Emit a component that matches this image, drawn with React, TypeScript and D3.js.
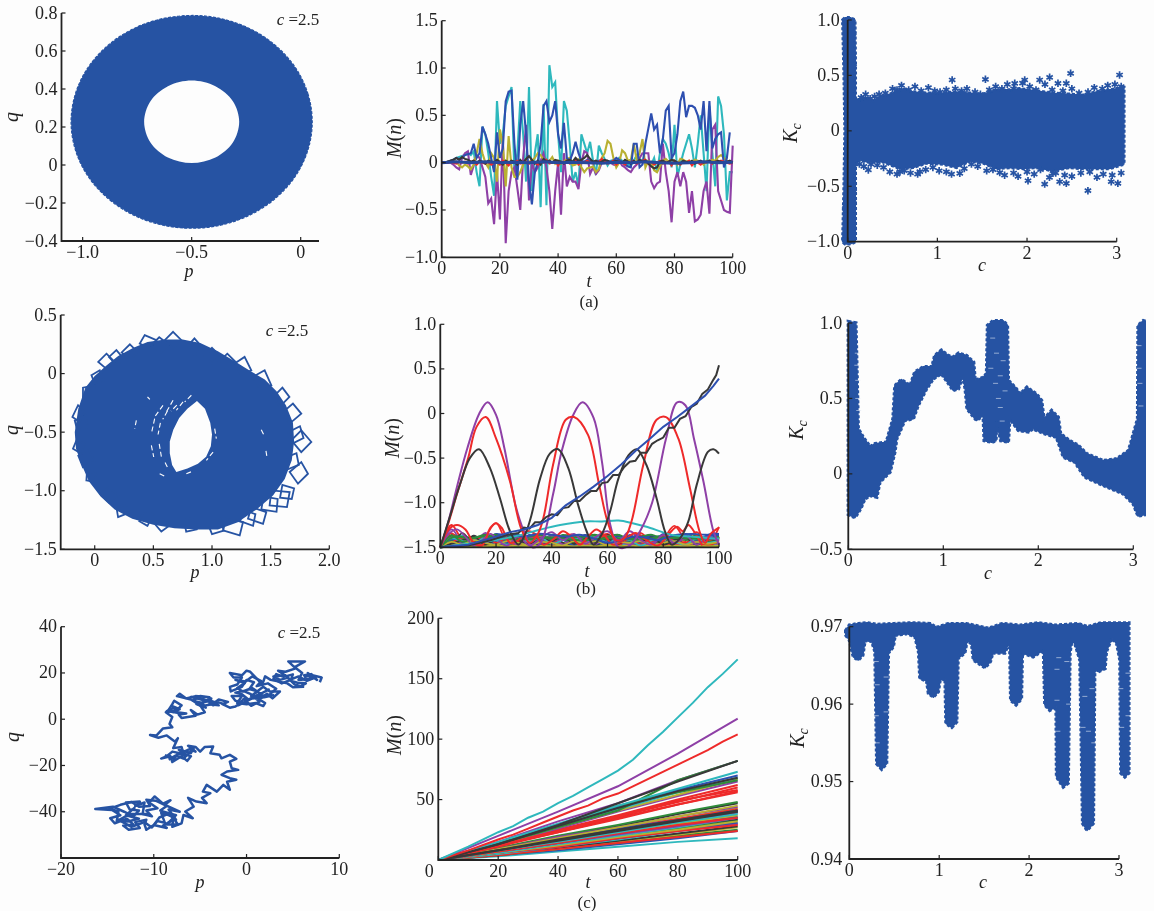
import React from "react";
import * as d3 from "d3";

const BLUE = "#2653a3";
const C = { blue: "#2d4fb0", green: "#2e8b3a", red: "#ee2a2a", cyan: "#2fb8bd", purple: "#8e3fa6", olive: "#b8b030", black: "#383838" };
type P = [number, number];

// ---------- row (a), p-q ring
const ringOuterA: P[] = [[.053,.227],[.034,.372],[-.021,.507],[-.109,.623],[-.2235,.712],[-.357,.768],[-.49,.787],[-.643,.768],[-.7765,.712],[-.891,.623],[-.979,.507],[-1.034,.372],[-1.053,.227],[-1.034,.082],[-.979,-.053],[-.891,-.169],[-.7765,-.258],[-.643,-.314],[-.5,-.333],[-.357,-.314],[-.2235,-.258],[-.109,-.169],[-.021,-.053],[.034,.082]];
const ringInnerA: P[] = [[-.282,.227],[-.311,.336],[-.391,.415],[-.5,.445],[-.609,.415],[-.689,.336],[-.718,.227],[-.689,.118],[-.609,.039],[-.5,.01],[-.391,.039],[-.311,.118]];

// ---------- row (a), M(n)
const mACyan = [0,0,0,.01,.03,.05,.06,.07,.08,.1,.08,.12,-.1,-.25,.38,.3,.1,-.15,-.35,.65,.2,.3,.6,.7,.8,-.1,.1,.65,.3,-.2,.8,-.3,.1,.3,-.47,.62,-.45,1.03,.8,.85,.3,-.1,.65,.55,.2,-.2,-.1,-.25,.3,.2,.1,.22,.02,-.13,.18,.1,.04,-.03,.02,.03,.01,.05,.02,0,-.02,-.03,.02,.08,.04,.02,.03,.01,-.02,.05,-.1,.1,.25,.2,.1,-.05,.4,-.15,-.02,.1,.2,.3,.15,-.05,.2,.5,.1,-.3,.6,.1,-.25,.7,.6,.3,-.4,-.1,-.1];
const mAPurple = [0,0,0,0,-.02,-.05,-.07,.05,.1,.12,-.13,-.03,.08,.05,-.05,-.15,-.43,-.38,-.65,-.1,-.6,.28,-.85,-.3,-.1,-.05,-.27,-.5,.05,.4,-.4,0,-.1,-.05,.02,.1,-.05,-.3,-.7,-.3,0,-.55,.1,-.25,-.15,-.2,-.2,-.28,0,.12,.1,-.12,-.05,-.12,-.08,0,.02,.01,0,-.02,-.03,.02,-.03,-.05,-.08,-.1,-.05,-.02,.05,.1,.1,.1,-.2,-.27,-.22,-.2,.2,-.1,-.3,-.63,-.2,-.1,-.25,-.1,-.2,-.53,-.3,-.62,-.6,-.55,-.3,-.2,-.54,.35,.4,-.3,-.4,-.5,-.52,-.53,.18];
const mAOlive = [0,0,.01,.02,.02,.01,-.03,-.05,-.02,-.04,-.07,-.02,.1,.25,.1,0,-.05,.1,.05,-.2,.35,.2,-.25,.28,-.05,-.15,-.15,-.1,-.02,.03,.01,.02,.05,.1,.08,.03,.01,.02,.06,-.01,.02,-.01,.01,.04,.05,-.03,-.02,.03,-.05,-.1,-.06,-.05,-.04,-.1,-.07,.05,.1,.23,.2,.05,-.05,0,.13,.1,.02,.03,.2,.03,.1,.25,-.05,.02,0,-.08,-.1,-.04,.02,.04,.01,.03,.02,-.02,.04,.03,.01,.02,-.01,.03,.02,.01,-.02,.02,.01,.03,.02,.06,.08,.05,.02,.01,0];
const mABlue = [0,0,.01,.02,.03,.05,.04,.05,.08,.09,.1,.2,.05,.1,.38,.3,.2,.05,-.1,.32,.05,.15,.65,.75,.76,.2,-.18,.4,.65,.3,-.2,-.44,-.1,0,.2,.6,.65,.43,.5,.65,.3,.15,.42,.05,.02,.1,.22,.1,.02,.01,.03,.02,.01,0,.02,.03,.01,.02,.01,.02,.05,.03,.01,-.02,-.04,-.05,.2,.2,-.05,-.02,.2,.36,.52,.35,.4,.1,.25,.55,.6,.05,.1,.3,.65,.75,.48,.6,.6,.58,.5,.35,.65,.12,.65,.15,.25,.3,.32,-.05,.05,.32];
const mARed = [0,0,0,.01,0,-.01,.01,0,.01,-.01,0,.02,-.02,.01,0,-.01,.01,-.02,0,.01,-.02,.02,0,-.03,.01,0,.02,-.01,0,.01,-.01,.02,0,-.02,.01,0,.03,-.01,0,.02,-.03,.01,0,.02,-.01,0,.03,-.02,.01,0,.02,0,-.01,.02,0,.04,.01,-.01,0,.02,-.02,.01,0,-.02,.01,0,.02,-.01,0,.02,.03,-.01,.01,-.02,0,.02,-.01,0,.01,-.03,.02,0,-.02,.01,0,.02,-.03,.01,0,-.02,.01,0,.02,-.01,.01,0,.02,.01,0,-.01,0];
const mABlack = [0,0,.01,.02,.03,.05,.03,.06,.04,.03,.01,.02,0,.02,.01,-.01,.02,.01,0,.03,.01,-.02,.02,0,.02,.01,-.02,.03,0,.04,.07,.03,-.01,.02,-.02,.04,.01,.02,0,.03,.02,.01,-.01,.02,.03,.01,.05,.02,.03,.05,.08,.04,.01,.02,0,.01,.03,.02,0,.01,.02,.01,0,.03,.01,-.01,.02,0,.03,.01,.02,-.01,-.04,-.06,-.05,.01,.02,0,.01,.03,.02,0,-.01,.02,.01,0,.02,-.01,.01,.02,0,.01,.02,0,.01,.02,.01,0,.01,.02,0];
const mAFlat = [0,.01,0,.01,0,.005,0,.01,0,.005,0,-.005,.005,0,.01,0,-.005,0,.01,0,.005];

// ---------- row (a), K_c
const kAStalkUp: P[] = [[-.055,1],[-.03,1.02],[.03,1.02],[.08,1],[.085,.6],[.085,.3]];
const kAStalkDown: P[] = [[.085,-.3],[.085,-.7],[.085,-1],[.03,-1.02],[-.03,-1.02],[-.055,-1],[-.04,-.5],[-.03,0],[-.04,.5]];
const kAUpper: P[] = [[.093,.28],[.137,.28],[.21,.3],[.286,.27],[.36,.31],[.47,.33],[.62,.38],[.73,.35],[.88,.34],[1.065,.34],[1.213,.35],[1.362,.34],[1.51,.33],[1.659,.37],[1.807,.37],[1.918,.38],[2.104,.36],[2.289,.34],[2.475,.33],[2.623,.32],[2.772,.35],[2.92,.37],[3.08,.39]];
const kALower: P[] = [[3.08,-.3],[2.92,-.34],[2.772,-.34],[2.623,-.34],[2.475,-.33],[2.289,-.36],[2.104,-.33],[1.957,-.34],[1.807,-.33],[1.659,-.34],[1.51,-.29],[1.362,-.27],[1.213,-.33],[1.065,-.3],[.88,-.29],[.73,-.33],[.583,-.34],[.396,-.28],[.21,-.28],[.137,-.26],[.093,-.3]];
const kAOutliers: P[] = [[1.165,.459],[1.536,.465],[2.486,.519],[3.032,.504],[2.252,.483],[2.141,.459],[1.974,.459],[1.863,.429],[2.438,.429],[2.345,.429],[2.679,-.54],[2.197,-.48],[2.011,-.45],[2.438,-.474],[2.364,-.459],[3.013,-.474],[2.939,-.459],[.23,-.353],[1.158,-.39],[1.25,-.383],[.805,-.368],[.583,-.368],[2.289,-.383],[1.696,-.377]];
const kAEdgeUp: P[] = [[.15,.3],[.2,.33],[.25,.29],[.3,.31],[.35,.33],[.42,.34],[.5,.38],[.55,.37],[.6,.41],[.68,.37],[.75,.4],[.82,.36],[.9,.39],[.97,.36],[1.03,.35],[1.1,.37],[1.2,.38],[1.27,.36],[1.33,.38],[1.42,.35],[1.48,.33],[1.58,.37],[1.65,.4],[1.72,.38],[1.78,.42],[1.85,.38],[1.95,.43],[2.03,.4],[2.1,.37],[2.2,.42],[2.28,.37],[2.4,.36],[2.5,.38],[2.58,.34],[2.68,.35],[2.75,.39],[2.84,.38],[2.9,.41],[2.98,.42],[3.05,.4]];
const kAEdgeDown: P[] = [[.13,-.3],[.18,-.32],[.26,-.3],[.33,-.31],[.4,-.33],[.47,-.37],[.55,-.39],[.63,-.36],[.7,-.38],[.78,-.39],[.87,-.35],[.95,-.33],[1.02,-.36],[1.1,-.37],[1.3,-.34],[1.38,-.3],[1.45,-.32],[1.55,-.36],[1.62,-.35],[1.75,-.4],[1.85,-.38],[1.9,-.41],[2,-.37],[2.08,-.39],[2.15,-.35],[2.25,-.42],[2.32,-.38],[2.42,-.4],[2.5,-.41],[2.6,-.38],[2.7,-.37],[2.78,-.42],[2.85,-.39],[2.95,-.4],[3.05,-.38]];
const kAStalkStars: P[] = [[.05,.98],[.06,.88],[.05,.78],[.06,.68],[.065,.58],[.05,.48],[.06,.38],[-.03,.98],[-.02,.7],[-.025,-.7],[-.03,-.98],[.05,-.98],[.06,-.88],[.05,-.76],[.06,-.65],[.065,-.55],[.05,-.45],[.06,-.36]];

// ---------- row (b), p-q
const ringFillB: P[] = [[-.17,-.5],[-.14,-.3],[-.08,-.12],[0,-.02],[.1,.07],[.2,.15],[.33,.22],[.45,.27],[.6,.29],[.75,.29],[.9,.26],[1.05,.19],[1.2,.1],[1.33,.02],[1.45,-.05],[1.55,-.15],[1.63,-.27],[1.69,-.42],[1.7,-.58],[1.68,-.74],[1.62,-.9],[1.52,-1.04],[1.38,-1.16],[1.22,-1.27],[1.05,-1.33],[.87,-1.33],[.68,-1.32],[.5,-1.29],[.32,-1.24],[.17,-1.16],[.05,-1.05],[-.05,-.92],[-.11,-.78],[-.16,-.64]];
const ringHoleB: P[] = [[.872,-.234],[.94,-.3],[.985,-.42],[1,-.52],[.99,-.62],[.95,-.71],[.88,-.77],[.79,-.81],[.696,-.84],[.66,-.78],[.64,-.68],[.64,-.58],[.67,-.48],[.72,-.38],[.79,-.3]];
const loopsB: P[][] = [
  [[1.761,-.342],[1.69,-.256],[1.59,-.342],[1.662,-.427]],
  [[1.847,-.584],[1.761,-.484],[1.676,-.57],[1.761,-.67]],
  [[1.818,-.855],[1.761,-.755],[1.662,-.84],[1.733,-.94]],
  [[1.639,-1.14],[1.662,-1.011],[1.506,-.997],[1.491,-1.125]],
  [[1.435,-1.282],[1.463,-1.182],[1.335,-1.14],[1.307,-1.239]],
  [[1.236,-1.382],[1.264,-1.268],[1.122,-1.239],[1.094,-1.339]],
  [[.668,.356],[.739,.285],[.668,.214],[.597,.285]],
  [[.426,.328],[.526,.285],[.469,.214],[.384,.256]],
  [[.185,.2],[.247,.128],[.185,.071],[.122,.142]],
  [[-.028,-.014],[.043,.028],[.077,-.057],[0,-.085]],
  [[1.278,.142],[1.335,.028],[1.25,-.014],[1.193,.085]],
  [[1.449,.028],[1.506,-.1],[1.406,-.128],[1.349,-.028]],
  [[-.19,-.37],[-.128,-.413],[-.085,-.328],[-.142,-.27]],
  [[-.185,-.641],[-.114,-.684],[-.085,-.598],[-.156,-.57]],
  [[-.071,-.912],[0,-.926],[.014,-.855],[-.065,-.826]],
  [[.199,-1.225],[.304,-1.182],[.256,-1.125],[.185,-1.14]],
  [[.568,-1.348],[.639,-1.296],[.582,-1.239],[.511,-1.282]],
  [[.1,.17],[.17,.1],[.1,.04],[.03,.1]],
  [[.3,.25],[.37,.18],[.3,.12],[.23,.18]],
  [[.55,.31],[.63,.25],[.56,.18],[.48,.24]],
  [[.85,.3],[.92,.22],[.85,.15],[.78,.22]],
  [[1,.22],[1.07,.15],[1,.08],[.93,.15]],
  [[1.13,.17],[1.2,.1],[1.13,.03],[1.06,.1]],
  [[1.6,-.12],[1.66,-.2],[1.58,-.28],[1.52,-.2]],
  [[1.75,-.45],[1.78,-.55],[1.68,-.6],[1.65,-.5]],
  [[1.72,-.68],[1.74,-.78],[1.64,-.82],[1.62,-.72]],
  [[1.7,-.98],[1.68,-1.07],[1.58,-1.06],[1.6,-.95]],
  [[1.55,-1.18],[1.56,-1.07],[1.44,-1.05],[1.42,-1.16]],
  [[1.35,-1.3],[1.37,-1.2],[1.26,-1.16],[1.24,-1.26]],
  [[1.1,-1.34],[1,-1.37],[.96,-1.27],[1.07,-1.24]],
  [[.87,-1.33],[.78,-1.35],[.76,-1.25],[.85,-1.23]],
  [[.45,-1.3],[.38,-1.26],[.42,-1.17],[.5,-1.2]],
  [[.12,-1.1],[.05,-1.03],[.12,-.97],[.2,-1.04]],
  [[-.1,-.8],[-.14,-.7],[-.05,-.65],[0,-.75]],
  [[-.15,-.48],[-.17,-.4],[-.08,-.36],[-.06,-.46]],
  [[-.1,-.2],[-.1,-.12],[0,-.1],[0,-.2]],
];
const slitsB: P[][] = [
  [[.511,-.385],[.483,-.513]],[[.582,-.271],[.511,-.37]],[[.668,-.228],[.611,-.328]],[[.753,-.242],[.696,-.313]],
  [[.824,-.185],[.767,-.242]],[[1.023,-.47],[1.037,-.556]],[[1.009,-.67],[.952,-.741]],[[.483,-.613],[.503,-.712]],
  [[.554,-.855],[.611,-.883]],[[.355,-.399],[.341,-.47]],[[.781,-.855],[.838,-.832]],
  [[.56,-.42],[.54,-.52]],[[.62,-.32],[.58,-.39]],[[.7,-.27],[.65,-.32]],[[.55,-.6],[.57,-.72]],[[.6,-.76],[.63,-.82]],
  [[1.42,-.48],[1.44,-.52]],[[.45,-.2],[.47,-.22]],[[1.46,-.66],[1.47,-.72]],
];

// ---------- row (b), M(n)
const mBPurple: P[] = [[0,-1.5],[3,-1.2],[6,-.82],[9.7,-.39],[14,0],[17,.125],[20,-.016],[23,-.39],[27,-1.03],[30,-1.32],[33,-1.5],[36,-1.45],[40.5,-.9],[43.5,-.43],[47.7,-.016],[51,.125],[55,-.05],[58,-.54],[61,-1.25],[64,-1.5],[68,-1.48],[72,-1.3],[76,-1],[81,-.28],[85,.125],[88,.09],[91,-.28],[94.4,-.76],[98,-1.32],[100,-1.47]];
const mBRed: P[] = [[0,-1.5],[3,-1.22],[6,-.9],[10,-.5],[13,-.15],[16.3,-.04],[20,-.28],[25,-.76],[29,-1.29],[32,-1.45],[35,-1.35],[37,-1.17],[40.5,-.57],[45,-.07],[48,-.04],[53,-.24],[57,-.8],[60,-1.21],[63,-1.42],[66,-1.4],[68.6,-1.21],[72.8,-.58],[77.6,-.07],[81,-.04],[85.4,-.28],[89.6,-.84],[93,-1.32],[95,-1.45],[97,-1.35],[100,-1.28]];
const mBBlack: P[] = [[0,-1.5],[3.5,-1.15],[7,-.8],[10.6,-.5],[13.9,-.4],[17.8,-.61],[21.4,-.95],[25,-1.32],[28,-1.47],[30.5,-1.35],[32.7,-1.14],[35.8,-.73],[39.3,-.45],[42.3,-.4],[45.9,-.61],[49.5,-1.03],[52.5,-1.32],[55,-1.47],[58,-1.35],[60.9,-1.1],[63.9,-.73],[67.5,-.47],[70.5,-.4],[74,-.58],[77.6,-.95],[80.6,-1.32],[83,-1.47],[86,-1.4],[89,-1.21],[92,-.8],[96,-.43],[98,-.4],[100,-.45]];
const mBRampBlack: P[] = [[0,-1.5],[10,-1.48],[18,-1.42],[24,-1.36],[28,-1.34],[30,-1.28],[32,-1.29],[34,-1.22],[36,-1.22],[38,-1.16],[40,-1.13],[42,-1.14],[44,-1.06],[46,-1.05],[48,-.98],[50,-.98],[52,-.92],[54,-.87],[56,-.87],[58,-.78],[60,-.77],[62,-.69],[64,-.69],[66,-.6],[68,-.54],[70,-.53],[72,-.44],[74,-.44],[76,-.34],[78,-.3],[80,-.27],[82,-.16],[84,-.16],[86,-.06],[88,-.03],[90,.07],[92,.11],[94,.22],[96,.27],[98,.38],[99,.43],[100,.54]];
const mBRampBlue: P[] = [[0,-1.5],[10,-1.47],[20,-1.38],[25,-1.33],[30,-1.3],[35,-1.25],[40,-1.17],[45,-1.03],[50,-.93],[55,-.82],[60,-.7],[65,-.57],[70,-.42],[75,-.29],[80,-.15],[85,-.04],[90,.08],[95,.2],[98,.31],[100,.39]];
const mBDome: P[] = [[0,-1.5],[10,-1.46],[20,-1.42],[29,-1.36],[36,-1.3],[43,-1.25],[52,-1.21],[58,-1.21],[64,-1.2],[69,-1.23],[74,-1.27],[83,-1.36],[90,-1.38],[98,-1.4],[100,-1.4]];
const mBSmallRed: P[] = [[0,-1.5],[3,-1.3],[6,-1.25],[9,-1.3],[12,-1.45],[15,-1.48],[18,-1.28],[20,-1.23],[22,-1.28],[25,-1.45],[28,-1.42],[31,-1.32],[34,-1.35],[37,-1.47],[41,-1.4],[44,-1.32],[47,-1.38],[50,-1.47],[53,-1.38],[56,-1.3],[59,-1.37],[62,-1.47],[66,-1.42],[70,-1.34],[74,-1.42],[78,-1.48],[82,-1.35],[85,-1.27],[87,-1.32],[89,-1.25],[91,-1.32],[94,-1.48]];
const mBSmallPurple: P[] = [[0,-1.5],[3,-1.35],[6,-1.3],[9,-1.38],[12,-1.48],[15,-1.42],[18,-1.35],[21,-1.43],[24,-1.48],[28,-1.38],[32,-1.48],[36,-1.4],[40,-1.33],[44,-1.42],[48,-1.35],[52,-1.46],[56,-1.38],[60,-1.32],[64,-1.42],[68,-1.32],[72,-1.42],[76,-1.47],[80,-1.36],[84,-1.45],[88,-1.37],[92,-1.47],[96,-1.4],[100,-1.42]];
const mBBandTopBlue: P[] = [[20,-1.42],[25,-1.36],[30,-1.38],[35,-1.35],[40,-1.36],[45,-1.38],[50,-1.36],[55,-1.4],[60,-1.45],[65,-1.42],[70,-1.38],[75,-1.4],[78,-1.42],[82,-1.38],[85,-1.36],[90,-1.35],[95,-1.36],[100,-1.36]];
const mBBandTopGreen: P[] = [[0,-1.5],[5,-1.38],[10,-1.4],[15,-1.38],[20,-1.39],[30,-1.41],[40,-1.39],[50,-1.42],[60,-1.4],[70,-1.41],[80,-1.39],[90,-1.4],[100,-1.41]];
const bandColors = [C.red, C.green, C.blue, C.cyan, C.purple, C.olive, C.black, C.green, C.red, C.blue, C.olive, C.cyan, C.purple, C.green, C.black, C.blue, C.red, C.olive, C.green, C.blue, C.red, C.purple, C.black, C.cyan, C.green, C.olive];
const bandHeights: number[][] = [
  [0,.25,.08,.03,.12,.27,.06,.04,.13,.06,.03,.12,.14,.03,.1,.15,.02,.09,.16,.05,.1,.24,.1,.17,.03,.23],
  [0,.14,.1,.02,.1,.14,.04,.05,.12,.1,.03,.13,.06,.1,.13,.02,.12,.08,.03,.11,.12,.03,.1,.12,.04,.1],
  [0,.1,.12,.02,.08,.15,.12,.05,.14,.08,.12,.05,.14,.09,.02,.13,.08,.13,.05,.1,.12,.02,.15,.09,.13,.14],
  [0,.06,.13,.09,.12,.13,.1,.12,.08,.1,.12,.09,.1,.13,.1,.12,.09,.12,.08,.11,.06,.12,.13,.1,.12,.09],
  [0,.2,.05,.02,.16,.06,.01,.14,.04,.13,.02,.12,.03,.14,.05,.01,.13,.03,.13,.01,.1,.03,.12,.02,.1,.04],
  [0,.04,.09,.03,.08,.02,.09,.03,.07,.02,.08,.04,.09,.01,.08,.03,.09,.02,.08,.03,.07,.02,.09,.04,.08,.03],
  [0,.03,.16,.02,.03,.14,.02,.12,.03,.11,.02,.13,.04,.02,.12,.03,.14,.01,.11,.03,.13,.02,.04,.13,.02,.11],
  [0,.08,.02,.1,.03,.09,.01,.1,.04,.09,.02,.11,.03,.1,.01,.09,.04,.1,.02,.09,.03,.1,.02,.08,.03,.09],
  [0,.02,.07,.01,.06,.02,.08,.01,.06,.03,.07,.01,.08,.02,.06,.01,.08,.02,.06,.01,.07,.03,.06,.01,.07,.02],
  [0,.05,.01,.06,.02,.07,.02,.05,.01,.07,.02,.05,.01,.06,.02,.05,.01,.07,.02,.06,.01,.05,.02,.07,.01,.05],
  [0,.04,.01,.05,.01,.04,.02,.05,.01,.04,.01,.05,.02,.04,.01,.05,.02,.04,.01,.05,.01,.04,.02,.05,.01,.04],
  [0,.01,.04,.01,.05,.02,.03,.01,.05,.01,.04,.02,.05,.01,.03,.02,.05,.01,.04,.01,.05,.02,.03,.01,.05,.01],
  [0,.03,.01,.03,.01,.04,.01,.03,.01,.03,.02,.04,.01,.03,.01,.04,.01,.03,.02,.03,.01,.04,.01,.03,.01,.03],
  [0,.01,.03,.01,.02,.01,.03,.01,.02,.01,.03,.01,.02,.01,.03,.01,.02,.01,.03,.01,.02,.01,.03,.01,.02,.01],
  [0,.11,.03,.13,.05,.02,.15,.03,.1,.01,.14,.05,.02,.12,.02,.14,.05,.11,.02,.13,.04,.12,.02,.14,.05,.12],
  [0,.02,.11,.04,.14,.02,.1,.14,.02,.12,.05,.1,.02,.14,.04,.1,.02,.14,.04,.02,.15,.04,.13,.02,.14,.15],
  [0,.16,.02,.05,.02,.12,.02,.03,.02,.12,.03,.01,.11,.02,.12,.03,.02,.11,.03,.1,.02,.04,.02,.06,.02,.07],
  [0,.02,.01,.02,.01,.02,.01,.02,.01,.02,.01,.02,.01,.02,.01,.02,.01,.02,.01,.02,.01,.02,.01,.02,.01,.02],
  [0,.07,.12,.06,.11,.14,.07,.13,.09,.06,.14,.1,.05,.12,.14,.08,.11,.06,.13,.09,.05,.13,.08,.12,.06,.11],
  [0,.09,.05,.12,.07,.12,.05,.08,.13,.04,.1,.13,.07,.05,.11,.06,.13,.05,.09,.13,.06,.09,.14,.05,.1,.13],
  [0,.05,.11,.07,.13,.05,.11,.06,.1,.12,.05,.09,.12,.06,.09,.13,.05,.1,.12,.06,.13,.07,.05,.11,.08,.12],
  [0,.12,.04,.09,.05,.11,.09,.03,.11,.05,.13,.03,.1,.08,.04,.12,.07,.04,.1,.05,.11,.04,.1,.06,.12,.05],
  [0,.04,.08,.12,.03,.09,.13,.08,.04,.1,.07,.12,.04,.09,.06,.1,.04,.12,.07,.11,.03,.08,.11,.03,.09,.07],
  [0,.1,.07,.04,.11,.08,.03,.1,.06,.11,.04,.08,.11,.04,.12,.05,.1,.08,.02,.08,.1,.06,.03,.1,.05,.08],
  [0,.13,.06,.1,.14,.1,.13,.09,.12,.14,.09,.14,.11,.13,.08,.12,.14,.09,.12,.14,.09,.13,.1,.13,.09,.12],
  [0,.06,.03,.08,.05,.03,.07,.05,.02,.06,.05,.02,.07,.04,.07,.02,.06,.05,.07,.02,.05,.07,.03,.06,.04,.06],
];
const bandStep = [0,4,8,12,16,20,24,28,32,36,40,44,48,52,56,60,64,68,72,76,80,84,88,92,96,100];

// ---------- row (b), K_c
const kBUpper: P[] = [[0,1.01],[.08,1],[.095,.585],[.105,.3],[.16,.24],[.23,.18],[.28,.2],[.4,.21],[.47,.365],[.49,.585],[.56,.625],[.65,.585],[.7,.675],[.79,.71],[.88,.71],[.91,.785],[.98,.82],[1.05,.785],[1.105,.775],[1.16,.8],[1.245,.785],[1.32,.74],[1.335,.62],[1.42,.64],[1.455,.665],[1.465,.985],[1.525,1.015],[1.63,1.015],[1.675,.985],[1.685,.62],[1.755,.575],[1.81,.53],[1.88,.575],[1.98,.53],[2.035,.487],[2.06,.365],[2.14,.42],[2.21,.376],[2.235,.265],[2.33,.22],[2.42,.19],[2.51,.133],[2.685,.088],[2.825,.1],[2.95,.155],[3,.265],[3.045,.365],[3.05,.985],[3.105,1.015],[3.13,1.01]];
const kBLower: P[] = [[3.13,-.27],[3.05,-.28],[3,-.2],[2.895,-.133],[2.685,-.077],[2.49,-.022],[2.385,.077],[2.265,.11],[2.19,.243],[2.07,.265],[1.98,.288],[1.945,.3],[1.895,.277],[1.79,.288],[1.7,.365],[1.685,.21],[1.605,.22],[1.56,.343],[1.555,.22],[1.51,.21],[1.43,.22],[1.42,.387],[1.35,.354],[1.25,.43],[1.23,.564],[1.205,.653],[1.16,.564],[1.105,.553],[.98,.664],[.895,.63],[.825,.564],[.735,.453],[.685,.365],[.595,.354],[.51,.232],[.49,.144],[.44,.011],[.385,-.022],[.333,-.055],[.3,-.155],[.23,-.144],[.175,-.166],[.13,-.232],[.07,-.29],[0,-.27]];
const kBSpecks: P[] = [[.1,.62],[.09,.72],[.1,.5],[.11,.42],[.095,.8],[3.06,.7],[3.07,.6],[3.08,.45],[3.06,.85],[1.5,.7],[1.55,.6],[1.58,.5],[1.6,.65],[1.62,.35],[1.56,.8],[1.63,.75],[1.6,.44],[1.52,.9],[1.65,.55]];

// ---------- row (c), p-q walk
const walkC: P[] = [[7.9,16],[8.1,18],[7.1,19],[7.6,17],[6.6,20],[7,17.5],[5.6,17],[6,20],[5.2,22.5],[6.3,25],[4.5,25],[5.3,22],[4.2,20.5],[3.4,21],[4.5,18],[3.6,17],[2.9,18.5],[4.2,19],[5.2,15],[6.1,14],[5,13.8],[4.4,15.5],[2.6,17],[2,18.5],[1.7,15],[1,18],[.4,20.5],[0,21],[-.5,19],[-1.8,20],[-1.4,18],[-.5,18],[-1,15],[-1.8,14],[-1.7,12],[-.5,14],[0,17],[.8,16],[.3,13],[1.2,12],[.5,10],[1.8,14],[2.5,12],[3.6,12],[2.8,9],[2.2,11],[1.5,9],[.8,10],[2,7],[1.8,5.7],[1,7],[0,6.5],[-1,7],[-.5,10],[-1.6,10],[-1.2,8],[-.5,7.5],[-1.2,5.5],[-1.8,5],[-2.6,6.5],[-2,7.5],[-3,8.5],[-3.5,7],[-3,6],[-4,6.5],[-3.8,9],[-4.6,7.5],[-5,6],[-4.4,5],[-4.8,7],[-5.8,8],[-5,10],[-4,9.5],[-5.5,10],[-6.5,9],[-7.2,11],[-7.5,10],[-6,8.5],[-5,6],[-4.5,3],[-5.3,2],[-6,4],[-5.5,1.5],[-7,.5],[-7.3,2],[-6.5,2.5],[-7.5,3],[-8.4,4],[-8,6.5],[-7.8,8],[-7,6],[-7.5,4],[-8.7,3],[-8,1],[-8.3,-2],[-8,-3.5],[-9,-4],[-9.7,-7],[-10.4,-6.8],[-9.5,-8],[-8.6,-7],[-7.7,-9.7],[-7.4,-8.2],[-7.9,-12.5],[-7,-12],[-6.8,-15],[-8,-14],[-8.6,-16],[-9.2,-17],[-8.2,-16],[-8,-18.5],[-7,-16],[-6.4,-18],[-6,-16],[-7,-14.5],[-6.2,-13],[-5.5,-14],[-6.3,-11.5],[-5.5,-12],[-5,-14],[-4.5,-12],[-3.6,-11.8],[-3.9,-14.7],[-2.9,-15.4],[-2.7,-16.9],[-1.8,-15.4],[-1.1,-17.1],[-1.8,-18.3],[-1.6,-21.2],[-.9,-21.9],[-2.1,-22.6],[-2.7,-24],[-1.8,-25.5],[-1.1,-26.2],[-2.1,-27],[-1.8,-30.5],[-2.5,-28.4],[-3.2,-31.3],[-4.3,-28.4],[-4.7,-31.3],[-3.9,-32],[-4.8,-34],[-4.3,-36.3],[-5.4,-35.6],[-6.3,-34],[-5.7,-37.8],[-6.6,-39.9],[-5.8,-42.8],[-6.8,-41.4],[-7,-45],[-8,-46.5],[-7.9,-43.5],[-9,-46],[-8.6,-47],[-10,-45.7],[-9.4,-42.5],[-8.5,-41],[-7.6,-43.5],[-8.4,-39],[-7.2,-40],[-8.8,-37],[-8.2,-35],[-9,-36.5],[-9.9,-33.4],[-10.5,-36],[-9.6,-38.5],[-10.8,-39.5],[-10.2,-42],[-11.2,-41],[-11,-36],[-12,-37.5],[-11.5,-35.6],[-13,-36],[-12.6,-39],[-11.6,-39.5],[-12.2,-42],[-13.2,-40],[-14.4,-37.8],[-16.3,-38.8],[-14.5,-39.2],[-13.6,-41.5],[-14.7,-42.8],[-14.2,-45],[-12.9,-43],[-12.2,-45.5],[-13.3,-46],[-12.7,-47.8],[-11.5,-47],[-12,-44.5],[-10.8,-43.5],[-11,-45.5],[-10.8,-47.8],[-10,-45.7]];
const walkTangles: P[][] = [
  [[6.2,18],[7,19.5],[6.2,19],[7.4,18],[6.5,16.6],[5.6,18.5],[4.8,17.2],[5,19.4],[4,18.3],[3.2,19.5],[2.9,17.5],[3.8,15.5],[4.6,16.8],[5.5,15.8],[6.4,15.5],[5.8,14.2]],
  [[2.5,13],[1.5,11],[.6,13.5],[-.4,12],[-1,13.5],[-.2,15.6],[-1.2,17],[-.1,16.3],[.6,18.5],[1.6,16.5],[1.1,14.3],[2.3,15.5],[3.2,13.2],[2.3,10],[1.2,10.5],[.2,8.5],[-.5,10.8],[-1.2,11.5],[-.3,12.2],[.4,11],[1.4,7.6],[.5,5.8],[-.3,8.8],[-.9,6],[.6,9],[1.9,9.5],[3,10.5]],
  [[-2.2,6.2],[-3,7.3],[-3.6,6],[-4.2,8.5],[-3.2,7],[-4.8,5.6],[-5.4,6.5],[-4.2,7.8],[-5.2,8.8],[-6,9.6],[-4.8,9],[-3.6,6.8]],
  [[-7.8,5],[-8.6,3.5],[-7.4,2.8],[-8,5.7],[-7.2,4.4],[-7.9,3],[-8.3,5]],
  [[-8.8,-15.5],[-7.8,-17.2],[-7.4,-14.8],[-6.5,-15.8],[-7.3,-13.2],[-6,-14.6],[-5.7,-12.6],[-6.8,-17],[-7.6,-15.6],[-8.4,-17.5]],
  [[-12,-38],[-13,-41.5],[-11.6,-43],[-12.8,-44.2],[-13.8,-43.5],[-12.4,-46.5],[-11,-44.5],[-10.2,-46.8],[-9.6,-44],[-8.8,-44.8],[-9.2,-40.5],[-8,-42],[-7.4,-45.5],[-8.6,-45.5],[-7.6,-41.5],[-9.3,-39.5],[-8.6,-37.5],[-9.8,-35.2],[-10.8,-34.8],[-10.4,-37.5],[-11.6,-37.8],[-12.4,-35.8],[-13.6,-37],[-14.8,-38.8],[-13.8,-39.8],[-14,-44.2],[-12.6,-41],[-10.6,-41]],
];

// ---------- row (c), M(n): values at t = 0,20,40,60,80,100
const mCTimes = [0,20,40,60,80,100];
const mCColors = [C.cyan,C.blue,C.green,C.olive,C.black,C.red,C.cyan,C.purple,C.blue,C.green,C.red,C.olive,C.black,C.cyan,C.purple,C.blue,C.olive,C.red,C.green,C.black,C.blue,C.purple,C.cyan,C.olive,C.red,C.blue,C.black,C.green,C.purple,C.olive,C.red,C.red,C.red,C.red,C.purple,C.olive,C.cyan,C.blue,C.green,C.purple,C.green,C.red,C.black,C.cyan,C.purple,C.black,C.black,C.black];
const mCValues: number[][] = [
  [0,3,7,11,15,18],
  [0,4,8,13,18,24],[0,4,9,14,20,25],[0,5,9,15,21,27],[0,5,10,16,22,28],[0,4,9,14,19,24],[0,5,11,17,24,30],
  [0,6,11,18,24,30],[0,6,12,18,25,31],[0,6,12,19,26,33],[0,6,11,18,24,29],[0,6,12,19,25,32],[0,7,14,21,28,34],
  [0,6,13,20,27,35],[0,7,14,21,28,35],[0,7,14,22,29,36],[0,7,15,23,30,37],[0,7,14,22,29,35],[0,8,16,24,32,40],
  [0,8,17,25,33,41],[0,8,17,25,32,40],[0,8,16,25,32,39],[0,8,15,23,31,38],[0,8,17,26,34,43],[0,9,18,26,34,42],
  [0,8,17,26,33,41],[0,9,19,28,38,47],[0,10,20,29,39,48],[0,9,19,27,36,44],[0,9,18,27,36,45],
  [0,11,23,34,46,56],[0,12,23,35,46,57],[0,12,24,36,48,60],[0,12,25,37,50,62],[0,13,26,40,53,65],[0,13,27,41,54,67],
  [0,14,28,42,56,68],[0,14,28,44,58,70],[0,14,29,45,56,66],[0,15,32,47,66,82],[0,13,27,41,66,82],[0,12,24,36,49,58],
  [0,13,28,43,57,68],[0,15,30,45,59,73],[0,20,40,61,88,117],
  [0,8,16,24,32,40],[0,8,17,25,33,41],[0,13,29,47,65,82],
];
const mCRed: P[] = [[0,0],[10,8],[20,17],[25,21],[30,26],[35,31],[40,36],[45,41],[50,45],[55,51],[60,55],[65,61],[70,67],[75,73],[80,79],[85,85],[90,91],[95,98],[100,104]];
const mCTop: P[] = [[0,0],[10,11],[20,23],[25,28],[30,35],[35,40],[40,47],[45,53],[50,60],[55,67],[60,74],[65,83],[70,95],[75,106],[80,118],[85,130],[90,143],[95,154],[100,166]];

// ---------- row (c), K_c
const kCTop: P[] = [[-.04,.9695],[0,.9702],[.1,.9704],[.2,.9705],[.3,.9703],[.5,.9704],[.7,.9705],[.9,.9704],[.97,.9699],[1.1,.9704],[1.3,.9704],[1.55,.9698],[1.7,.9704],[1.9,.9702],[2.1,.9705],[2.3,.9702],[2.55,.9704],[2.65,.97],[2.8,.9705],[3.11,.9705]];
const kCBottom: P[] = [[3.11,.9511],[3.065,.9506],[3.02,.9511],[3.01,.9657],[2.975,.9678],[2.92,.9685],[2.86,.9668],[2.845,.9646],[2.77,.9642],[2.73,.9644],[2.715,.9446],[2.645,.9437],[2.595,.9446],[2.565,.9657],[2.51,.9678],[2.475,.9682],[2.455,.9666],[2.435,.9498],[2.38,.9493],[2.305,.9506],[2.3,.9597],[2.23,.9592],[2.175,.9599],[2.16,.967],[2.045,.9661],[1.925,.9666],[1.915,.9607],[1.855,.9599],[1.795,.9605],[1.785,.9674],[1.77,.9678],[1.73,.9666],[1.595,.9666],[1.57,.9655],[1.51,.9647],[1.38,.9657],[1.36,.9678],[1.31,.9682],[1.285,.9666],[1.21,.9659],[1.195,.9577],[1.14,.957],[1.075,.9575],[1.065,.9633],[1.01,.9631],[.99,.9616],[.935,.9609],[.88,.9614],[.86,.963],[.785,.9633],[.77,.9668],[.73,.9687],[.64,.9691],[.51,.9689],[.49,.9674],[.435,.9666],[.415,.9523],[.36,.9516],[.305,.9523],[.285,.9668],[.25,.9681],[.175,.9682],[.15,.9663],[.1,.9657],[.045,.9661],[0,.9683],[-.04,.9689]];
const kCSpecks: P[] = [[.3,.9655],[.31,.9625],[.3,.9585],[.31,.955],[.41,.9635],[.41,.959],[2.31,.9645],[2.31,.9605],[2.32,.9565],[2.42,.9655],[2.44,.96],[2.33,.966],[2.62,.961],[2.6,.957],[2.66,.9565],[2.7,.962],[2.72,.955],[3.02,.962],[3.1,.9585],[3.1,.964],[3.03,.957]];

// ---------- tick labels
const xTicksA1 = [-1, -.5, 0]; const yTicksA1 = [-.4, -.2, 0, .2, .4, .6, .8];
const xTicksM = [0, 20, 40, 60, 80, 100]; const yTicksM1 = [-1, -.5, 0, .5, 1, 1.5];
const xTicksK = [0, 1, 2, 3]; const yTicksK1 = [-1, -.5, 0, .5, 1];
const xTicksA2 = [0, .5, 1, 1.5, 2]; const yTicksA2 = [-1.5, -1, -.5, 0, .5];
const yTicksM2 = [-1.5, -1, -.5, 0, .5, 1]; const yTicksK2 = [-.5, 0, .5, 1];
const xTicksA3 = [-20, -10, 0, 10]; const yTicksA3 = [-40, -20, 0, 20, 40];
const yTicksM3 = [50, 100, 150, 200]; const yTicksK3 = [.94, .95, .96, .97];

const FONT = "'Liberation Serif','Times New Roman',serif";
const AX = "#222";
type S = d3.ScaleLinear<number, number>;

function Axes({ x, y, xt, yt, xf = d3.format(".0f"), yf = d3.format(".0f"), gap = 4, zeroDx = 0 }: any) {
  const [x0, x1] = x.range(); const [y0, y1] = y.range();
  return (
    <g fontFamily={FONT} fontSize={18} fill="#222">
      <path d={`M${x0},${y1}V${y0}H${x1}`} fill="none" stroke={AX} strokeWidth={1.8} />
      {xt.map((t: number) => (
        <g key={t}>
          <line x1={x(t)} x2={x(t)} y1={y0} y2={y0 - 4} stroke={AX} strokeWidth={1.2} />
          <text x={x(t) + (t === 0 ? zeroDx : 0)} y={y0 + 17} textAnchor="middle">{t === 0 ? "0" : xf(t)}</text>
        </g>
      ))}
      {yt.map((t: number) => (
        <g key={t}>
          <line x1={x0} x2={x0 + 4} y1={y(t)} y2={y(t)} stroke={AX} strokeWidth={1.2} />
          <text x={x0 - gap} y={y(t) + 5.5} textAnchor="end">{t === 0 ? "0" : yf(t)}</text>
        </g>
      ))}
    </g>
  );
}
const XL = ({ x, y, t }: any) => <text x={x} y={y} textAnchor="middle" fontFamily={FONT} fontSize={18} fontStyle="italic" fill="#222">{t}</text>;
const Cap = ({ x, y, t }: any) => <text x={x} y={y} textAnchor="middle" fontFamily={FONT} fontSize={17} fill="#222">{t}</text>;
const YL = ({ x, y, children }: any) => <text transform={`translate(${x},${y}) rotate(-90)`} textAnchor="middle" fontFamily={FONT} fontSize={20} fill="#222">{children}</text>;
const Mn = () => <><tspan fontStyle="italic">M</tspan>(<tspan fontStyle="italic">n</tspan>)</>;
const Kc = () => <><tspan fontStyle="italic">K</tspan><tspan fontStyle="italic" fontSize={14} dy={4}>c</tspan></>;
const Note = ({ x, y }: any) => <text x={x} y={y} textAnchor="middle" fontFamily={FONT} fontSize={17} fill="#222"><tspan fontStyle="italic">c</tspan> =2.5</text>;

const f1 = d3.format(".1f"), f2 = d3.format(".2f");

export default function App() {
  const lin = (a: number[], b: number[]): S => d3.scaleLinear().domain(a).range(b);
  const xA1 = lin([-1.097, .084], [61.5, 319]), yA1 = lin([-.4, .8], [241, 13]);
  const xM1 = lin([0, 100], [441.7, 732.7]), yM1 = lin([-1, 1.5], [257.3, 20.7]);
  const xK1 = lin([0, 3], [847.7, 1116.7]), yK1 = lin([-1, 1], [241.7, 20]);
  const xA2 = lin([-.29, 2], [60.7, 329.3]), yA2 = lin([-1.5, .5], [549.3, 315]);
  const xM2 = lin([0, 100], [440.3, 719]), yM2 = lin([-1.5, 1], [547.3, 324.3]);
  const xK2 = lin([0, 3], [848.3, 1133.3]), yK2 = lin([-.5, 1], [549.3, 323]);
  const xA3 = lin([-20, 10], [61, 339.3]), yA3 = lin([-60, 40], [858, 626.7]);
  const xM3 = lin([0, 100], [438.3, 737.7]), yM3 = lin([0, 200], [860, 618.3]);
  const xK3 = lin([0, 3], [849.3, 1119]), yK3 = lin([.94, .97], [859, 626.7]);

  const pathXY = (x: S, y: S, pts: P[], curve: any = d3.curveLinear) =>
    d3.line<P>().x(d => x(d[0])).y(d => y(d[1])).curve(curve)(pts) as string;
  const seriesPath = (x: S, y: S, v: number[]) => pathXY(x, y, v.map((d, i) => [i, d] as P));
  const star = d3.symbol().type(d3.symbolAsterisk).size(38)() as string;
  const Stars = ({ x, y, pts }: any) => pts.map((p: P, i: number) => (
    <path key={i} d={star} transform={`translate(${x(p[0])},${y(p[1])})`} fill="none" stroke={BLUE} strokeWidth={1.7} />
  ));
  const Specks = ({ x, y, pts }: any) => pts.map((p: P, i: number) => (
    <line key={i} x1={x(p[0]) - 2.5} x2={x(p[0]) + 2.5} y1={y(p[1])} y2={y(p[1])} stroke="#dfe6f2" strokeWidth={1} opacity={0.6} />
  ));
  const Serrate = ({ d }: any) => <>
    <path d={d} fill={BLUE} stroke={BLUE} strokeWidth={1.5} strokeLinejoin="round" />
    <path d={d} fill="none" stroke={BLUE} strokeWidth={3.4} strokeDasharray="3 2" />
  </>;

  return (
    <svg width={1154} height={911} style={{ position: "absolute", left: 0, top: 0, display: "block" }}>
      <defs><filter id="soft" x="0" y="0" width="100%" height="100%"><feGaussianBlur stdDeviation="0.45" /></filter></defs>
      <rect width={1154} height={911} fill="#fdfdfd" />
      <g filter="url(#soft)">
      {/* row a */}
      <path fillRule="evenodd" fill={BLUE} d={pathXY(xA1, yA1, ringOuterA, d3.curveCatmullRomClosed) + pathXY(xA1, yA1, ringInnerA, d3.curveCatmullRomClosed)} />
      <path d={pathXY(xA1, yA1, ringOuterA, d3.curveCatmullRomClosed)} fill="none" stroke={BLUE} strokeWidth={1.2} strokeDasharray="3 1.5" />
      <Axes x={xA1} y={yA1} xt={xTicksA1} yt={yTicksA1} xf={f1} yf={f1} />
      <XL x={189} y={277} t="p" /><YL x={18} y={117}><tspan fontStyle="italic">q</tspan></YL>
      <Note x={298} y={25} />

      {[[mACyan, C.cyan], [mAPurple, C.purple], [mAOlive, C.olive], [mABlue, C.blue], [mARed, C.red], [mABlack, C.black]].map(([v, col]: any, i) => (
        <path key={i} d={seriesPath(xM1, yM1, v)} fill="none" stroke={col} strokeWidth={2.1} />
      ))}
      <path d={pathXY(xM1, yM1, mAFlat.map((d, i) => [i * 5, d] as P))} fill="none" stroke="#28489c" strokeWidth={3} />
      <Axes x={xM1} y={yM1} xt={xTicksM} yt={yTicksM1} yf={f1} />
      <XL x={589} y={287} t="t" /><Cap x={589} y={307} t="(a)" />
      <YL x={401} y={138}><Mn /></YL>

      <Serrate d={pathXY(xK1, yK1, [...kAStalkUp, ...kAUpper, ...kALower, ...kAStalkDown]) + "Z"} />
      <Stars x={xK1} y={yK1} pts={[...kAOutliers, ...kAEdgeUp, ...kAEdgeDown, ...kAStalkStars]} />
      <Axes x={xK1} y={yK1} xt={xTicksK} yt={yTicksK1} yf={f1} gap={8} />
      <XL x={982} y={271} t="c" /><YL x={797} y={133}><Kc /></YL>

      {/* row b */}
      <path fillRule="evenodd" fill={BLUE} d={pathXY(xA2, yA2, ringFillB) + "Z" + pathXY(xA2, yA2, ringHoleB, d3.curveLinear) + "Z"} />
      {loopsB.map((l, i) => <path key={i} d={pathXY(xA2, yA2, l) + "Z"} fill="none" stroke={BLUE} strokeWidth={1.8} />)}
      {slitsB.map((l, i) => <path key={i} d={pathXY(xA2, yA2, l)} fill="none" stroke="#fdfdfd" strokeWidth={1.1} strokeDasharray="5 3" />)}
      <Axes x={xA2} y={yA2} xt={xTicksA2} yt={yTicksA2} xf={f1} yf={f1} />
      <XL x={195} y={578} t="p" /><YL x={18} y={430}><tspan fontStyle="italic">q</tspan></YL>
      <Note x={287} y={336} />

      {bandHeights.map((h, i) => (
        <path key={i} d={pathXY(xM2, yM2, h.map((d, j) => [bandStep[j], -1.5 + d] as P), d3.curveCatmullRom)} fill="none" stroke={bandColors[i]} strokeWidth={1.8} />
      ))}
      <path d={pathXY(xM2, yM2, mBBandTopGreen, d3.curveCatmullRom)} fill="none" stroke={C.green} strokeWidth={2} />
      <path d={pathXY(xM2, yM2, mBSmallPurple, d3.curveCatmullRom)} fill="none" stroke={C.purple} strokeWidth={1.8} />
      <path d={pathXY(xM2, yM2, mBSmallRed, d3.curveCatmullRom)} fill="none" stroke={C.red} strokeWidth={2} />
      <path d={pathXY(xM2, yM2, mBBandTopBlue, d3.curveCatmullRom)} fill="none" stroke={C.blue} strokeWidth={2} />
      <path d={pathXY(xM2, yM2, mBDome, d3.curveCatmullRom)} fill="none" stroke={C.cyan} strokeWidth={1.9} />
      <path d={pathXY(xM2, yM2, mBPurple, d3.curveCatmullRom)} fill="none" stroke={C.purple} strokeWidth={2} />
      <path d={pathXY(xM2, yM2, mBRed, d3.curveCatmullRom)} fill="none" stroke={C.red} strokeWidth={2} />
      <path d={pathXY(xM2, yM2, mBBlack, d3.curveCatmullRom)} fill="none" stroke={C.black} strokeWidth={2} />
      <path d={pathXY(xM2, yM2, mBRampBlack)} fill="none" stroke={C.black} strokeWidth={2} />
      <path d={pathXY(xM2, yM2, mBRampBlue)} fill="none" stroke={C.blue} strokeWidth={2} />
      <Axes x={xM2} y={yM2} xt={xTicksM} yt={yTicksM2} yf={f1} />
      <XL x={587} y={577} t="t" /><Cap x={586} y={594} t="(b)" />
      <YL x={399} y={438}><Mn /></YL>

      <Serrate d={pathXY(xK2, yK2, [...kBUpper, ...kBLower]) + "Z"} />
      <Specks x={xK2} y={yK2} pts={kBSpecks} />
      <Axes x={xK2} y={yK2} xt={xTicksK} yt={yTicksK2} yf={f1} gap={6} />
      <XL x={988} y={579} t="c" /><YL x={803} y={430}><Kc /></YL>

      {/* row c */}
      <path d={pathXY(xA3, yA3, walkC)} fill="none" stroke={BLUE} strokeWidth={2.5} strokeLinejoin="round" />
      {walkTangles.map((w, i) => <path key={i} d={pathXY(xA3, yA3, w)} fill="none" stroke={BLUE} strokeWidth={2.5} strokeLinejoin="round" />)}
      <Axes x={xA3} y={yA3} xt={xTicksA3} yt={yTicksA3} yf={d3.format(".0f")} />
      <XL x={200} y={888} t="p" /><YL x={19} y={737}><tspan fontStyle="italic">q</tspan></YL>
      <Note x={299} y={638} />

      {mCValues.map((v, i) => (
        <path key={i} d={pathXY(xM3, yM3, v.map((d, j) => [mCTimes[j], d] as P))} fill="none" stroke={mCColors[i]} strokeWidth={2} />
      ))}
      <path d={pathXY(xM3, yM3, mCRed)} fill="none" stroke={C.red} strokeWidth={2} />
      <path d={pathXY(xM3, yM3, mCTop)} fill="none" stroke={C.cyan} strokeWidth={2} />
      <Axes x={xM3} y={yM3} xt={xTicksM} yt={yTicksM3} zeroDx={-9} />
      <XL x={588} y={888} t="t" /><Cap x={587} y={908} t="(c)" />
      <YL x={401} y={735}><Mn /></YL>

      <Serrate d={pathXY(xK3, yK3, [...kCTop, ...kCBottom]) + "Z"} />
      <Specks x={xK3} y={yK3} pts={kCSpecks} />
      <Axes x={xK3} y={yK3} xt={xTicksK} yt={yTicksK3} yf={f2} gap={7} />
      <XL x={983} y={888} t="c" /><YL x={804} y={738}><Kc /></YL>
      </g>
    </svg>
  );
}
